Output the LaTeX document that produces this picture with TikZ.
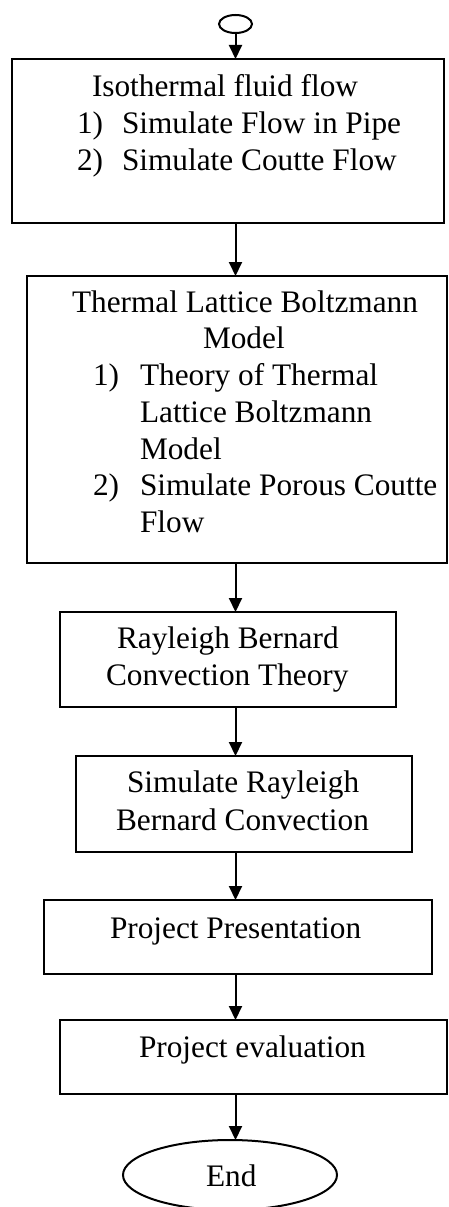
\documentclass[tikz,border=0pt]{standalone}
\usepackage{fontspec}
\setmainfont{Liberation Serif}
\usetikzlibrary{arrows.meta,shapes.geometric}

\tikzset{
  stepbox/.style={draw=black, line width=2.5pt, rectangle, inner sep=0pt, outer sep=0pt},
  terminal/.style={draw=black, line width=2pt, ellipse, inner sep=0pt, outer sep=0pt},
  flow/.style={draw=black, line width=2pt, -{Triangle[length=14pt,width=13pt]}},
  txt/.style={anchor=base west, inner sep=0pt, outer sep=0pt,
              font=\fontsize{31.3}{37}\selectfont}
}

\begin{document}
\begin{tikzpicture}[x=1pt, y=-1pt]
  \useasboundingbox (0,0) rectangle (449,1207);

  % terminals
  \node[terminal, minimum width=33pt, minimum height=18pt] (start) at (235.5,24) {};
  \node[terminal, minimum width=214pt, minimum height=70pt] (stop) at (230,1175) {};

  % process boxes
  \node[stepbox, minimum width=432pt, minimum height=164pt] (iso)  at (228,141) {};
  \node[stepbox, minimum width=420pt, minimum height=287pt] (tlbm) at (237,419.5) {};
  \node[stepbox, minimum width=336pt, minimum height=95pt]  (rbt)  at (228,659.5) {};
  \node[stepbox, minimum width=336pt, minimum height=96pt]  (rbs)  at (244,804) {};
  \node[stepbox, minimum width=388pt, minimum height=74pt]  (pres) at (238,937) {};
  \node[stepbox, minimum width=387pt, minimum height=74pt]  (eval) at (253.5,1057) {};

  % box texts
  \node[txt] (t1a) at (92,96)   {Isothermal fluid flow};
  \node[txt] (t1b) at (77,133)  {1)};
  \node[txt] (t1c) at (122,133) {Simulate Flow in Pipe};
  \node[txt] (t1d) at (77,170)  {2)};
  \node[txt] (t1e) at (122,170) {Simulate Coutte Flow};

  \node[txt] (t2a) at (72,312)  {Thermal Lattice Boltzmann};
  \node[txt] (t2b) at (203,348) {Model};
  \node[txt] (t2c) at (93,385)  {1)};
  \node[txt] (t2d) at (140,385) {Theory of Thermal};
  \node[txt] (t2e) at (140,422) {Lattice Boltzmann};
  \node[txt] (t2f) at (140,459) {Model};
  \node[txt] (t2g) at (93,495)  {2)};
  \node[txt] (t2h) at (140,495) {Simulate Porous Coutte};
  \node[txt] (t2i) at (140,532) {Flow};

  \node[txt] (t3a) at (117,648) {Rayleigh Bernard};
  \node[txt] (t3b) at (106,685) {Convection Theory};

  \node[txt] (t4a) at (127,792) {Simulate Rayleigh};
  \node[txt] (t4b) at (116,830) {Bernard Convection};

  \node[txt] (t5a) at (110,938) {Project Presentation};
  \node[txt] (t6a) at (139,1057) {Project evaluation};
  \node[txt] (t7a) at (206,1186) {End};

  % connectors along the common vertical axis
  \draw[flow] (start.south) -- (start.south |- iso.north);
  \draw[flow] (start.south |- iso.south)  -- (start.south |- tlbm.north);
  \draw[flow] (start.south |- tlbm.south) -- (start.south |- rbt.north);
  \draw[flow] (start.south |- rbt.south)  -- (start.south |- rbs.north);
  \draw[flow] (start.south |- rbs.south)  -- (start.south |- pres.north);
  \draw[flow] (start.south |- pres.south) -- (start.south |- eval.north);
  \draw[flow] (start.south |- eval.south) -- (start.south |- stop.north);
\end{tikzpicture}
\end{document}
